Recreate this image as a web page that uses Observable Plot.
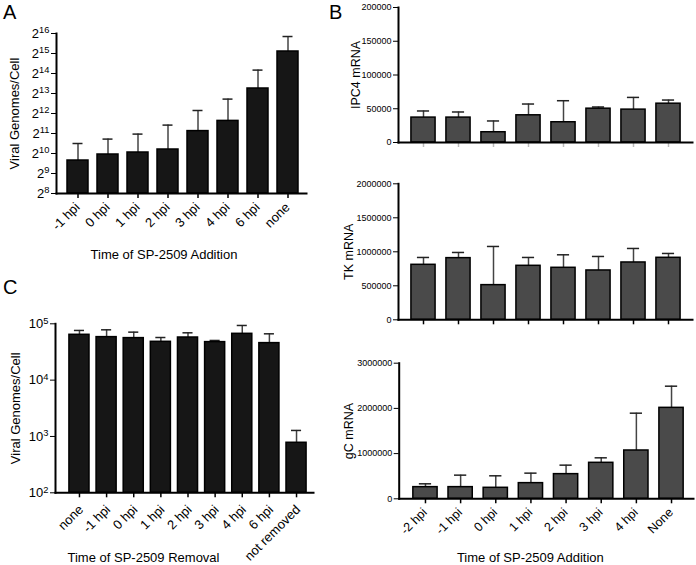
<!DOCTYPE html>
<html><head><meta charset="utf-8">
<script src="https://cdn.jsdelivr.net/npm/d3@7"></script>
<script src="https://cdn.jsdelivr.net/npm/@observablehq/plot@0.6"></script>
<style>
body{margin:0;background:#fff;}
#fig{position:relative;width:696px;height:565px;font-family:"Liberation Sans",Arial,sans-serif;overflow:hidden;}
.panel{position:absolute;}
.letter{position:absolute;font-size:20px;line-height:1;color:#000;}
</style></head><body><div id="fig"></div>
<script>
// ---- Panel A ----
const catsA = ["-1 hpi","0 hpi","1 hpi","2 hpi","3 hpi","4 hpi","6 hpi","none"];
const meanA = [803, 989, 1060, 1176, 2226, 3169, 9741, 35120];
const errA  = [1448, 1687, 2006, 2740, 4545, 6746, 18432, 59020];
const ticksA = [256, 512, 1024, 2048, 4096, 8192, 16384, 32768, 65536];
const tickLabelsA = ["2^8","2^9","2^10","2^11","2^12","2^13","2^14","2^15","2^16"];

// ---- Panel B ----
const catsB = ["-2 hpi","-1 hpi","0 hpi","1 hpi","2 hpi","3 hpi","4 hpi","None"];
const ipc4Mean = [36900, 36900, 15200, 40300, 30000, 50100, 48700, 57500];
const ipc4Err  = [46700, 45200, 31900, 57000, 61900, 52600, 66800, 62900];
const ipc4Ticks = [0, 50000, 100000, 150000, 200000];
const tkMean = [808800, 906900, 509800, 794100, 764700, 725500, 843100, 911800];
const tkErr  = [916700, 990200, 1078400, 916700, 955900, 931400, 1049000, 975500];
const tkTicks = [0, 500000, 1000000, 1500000, 2000000];
const gcMean = [258000, 258000, 243300, 346400, 545500, 796100, 1068800, 2012300];
const gcErr  = [331700, 523300, 508600, 567600, 744500, 906600, 1894300, 2491400];
const gcTicks = [0, 1000000, 2000000, 3000000];

// ---- Panel C ----
const catsC = ["none","-1 hpi","0 hpi","1 hpi","2 hpi","3 hpi","4 hpi","6 hpi","not removed"];
const meanC = [63800, 58000, 55700, 47900, 57100, 47300, 66400, 45400, 773];
const errC  = [76200, 78200, 71100, 57100, 69200, 50600, 93400, 66400, 1279];
const ticksC = [100, 1000, 10000, 100000];
const tickLabelsC = ["10^2","10^3","10^4","10^5"];

const FONT = '"Liberation Sans", Arial, sans-serif';

function panel(o) {
  const data = o.cats.map((c, i) => ({c, v: o.mean[i], e: o.err[i]}));
  const base = o.yType === "log" ? o.yDomain[0] : 0;
  const capInset = o.capInset;
  const marks = [
    Plot.ruleX(data, {x: "c", y1: "v", y2: "e", stroke: "#444", strokeWidth: 1.5}),
    Plot.tickY(data, {x: "c", y: "e", stroke: "#222", strokeWidth: 1.5, insetLeft: capInset, insetRight: capInset}),
    Plot.barY(data, {x: "c", y1: base, y2: "v", fill: o.fill, stroke: "#000", strokeWidth: 1.5}),
    Plot.axisY({ticks: o.yTicks, tickFormat: o.yTickFormat, tickSize: 5, tickPadding: 2, fontSize: o.yFont, label: null}),
    Plot.axisX({tickSize: 5, stroke: o.xTickColor || "#000", strokeWidth: 1.5, tickFormat: () => "", label: null}),
    Plot.frame({anchor: "left", strokeWidth: 2}),
    Plot.frame({anchor: "bottom", strokeWidth: 2}),
    Plot.text([o.yLabel], {frameAnchor: "left", rotate: -90, textAnchor: "middle", dx: o.yLabelDx,
      fontSize: o.yLabelFont, lineAnchor: "middle"})
  ];
  if (o.showXLabels) {
    marks.push(Plot.text(o.cats, {x: d => d, text: d => d, frameAnchor: "bottom", rotate: -45,
      textAnchor: "end", lineAnchor: "top", dx: o.xlDx, dy: o.xlDy, fontSize: o.xFont}));
  }
  if (o.xLabel) marks.push(Plot.text([o.xLabel], {frameAnchor: "bottom", dx: o.xLabelDx, dy: o.xLabelDy, fontSize: 13, lineAnchor: "middle"}));
  return Plot.plot({
    width: o.width, height: o.height,
    marginTop: o.mt, marginBottom: o.mb, marginLeft: o.ml, marginRight: o.mr,
    style: {fontFamily: FONT, color: "#000", background: "transparent", overflow: "visible"},
    x: {domain: o.cats, range: o.xr, paddingInner: o.padding, paddingOuter: o.padding / 2, round: false, label: null, axis: null},
    y: Object.assign({type: o.yType, domain: o.yDomain, label: null, axis: null}, o.yType === "log" ? {base: o.logBase} : {}),
    marks
  });
}

function superscriptTicks(svg) {
  d3.select(svg).selectAll('g[aria-label="y-axis tick label"] text').each(function() {
    const t = d3.select(this);
    const s = t.text();
    if (s.indexOf("^") < 0) return;
    const [b, e] = s.split("^");
    t.text(b);
    t.append("tspan").attr("dy", "-0.45em").attr("font-size", "72%").text(e);
  });
}

function place(svg, left, top) {
  const d = document.createElement("div");
  d.className = "panel";
  d.style.left = left + "px"; d.style.top = top + "px";
  d.appendChild(svg);
  document.getElementById("fig").appendChild(d);
}

const fmtInt = d3.format("d");

// Panel A
const svgA = panel({
  cats: catsA, mean: meanA, err: errA, width: 320, height: 290, mt: 33, mb: 97, ml: 56, mr: 14,
  xr: [62.5, 302.5], padding: 0.3, capInset: 5.5, yType: "log", logBase: 2, yDomain: [256, 65536],
  yTicks: ticksA, yTickFormat: (d) => tickLabelsA[ticksA.indexOf(d)], yFont: 13,
  yLabel: "Viral Genomes/Cell", yLabelDx: -41.5, yLabelFont: 13, fill: "#161616",
  xFont: 13, showXLabels: true, xlDx: -4, xlDy: 8,
  xLabel: "Time of SP-2509 Addition", xLabelDx: -17.5, xLabelDy: 61
});
superscriptTicks(svgA);
place(svgA, 0, 0);

// Panel C
const svgC = panel({
  cats: catsC, mean: meanC, err: errC, width: 320, height: 275, mt: 33.3, mb: 72.7, ml: 55, mr: 7,
  xr: [65.4, 309.6], padding: 0.26, capInset: 5, yType: "log", logBase: 10, yDomain: [100, 100000],
  yTicks: ticksC, yTickFormat: (d) => tickLabelsC[ticksC.indexOf(d)], yFont: 13,
  yLabel: "Viral Genomes/Cell", yLabelDx: -40, yLabelFont: 13, fill: "#161616",
  xFont: 13, showXLabels: true, xlDx: -2, xlDy: 11,
  xLabel: "Time of SP-2509 Removal", xLabelDx: -41, xLabelDy: 65
});
superscriptTicks(svgC);
place(svgC, 0, 290);

// Panel B1 IPC4
const svgB1 = panel({
  cats: catsB, mean: ipc4Mean, err: ipc4Err, width: 356, height: 155, mt: 7, mb: 13, ml: 58, mr: 4,
  xr: [65.5, 345.5], padding: 0.31, capInset: 6, yType: "linear", yDomain: [0, 200000],
  yTicks: ipc4Ticks, yTickFormat: fmtInt, yFont: 9, yLabel: "IPC4 mRNA", yLabelDx: -43, yLabelFont: 12.5,
  fill: "#4a4a4a", showXLabels: false, xTickColor: "#bbb"
});
place(svgB1, 340, 0);

// Panel B2 TK
const svgB2 = panel({
  cats: catsB, mean: tkMean, err: tkErr, width: 356, height: 170, mt: 23.3, mb: 10.7, ml: 58, mr: 4,
  xr: [65.5, 345.5], padding: 0.31, capInset: 6, yType: "linear", yDomain: [0, 2000000],
  yTicks: tkTicks, yTickFormat: fmtInt, yFont: 9, yLabel: "TK mRNA", yLabelDx: -50, yLabelFont: 12.5,
  fill: "#4a4a4a", showXLabels: false
});
place(svgB2, 340, 160);

// Panel B3 gC
const svgB3 = panel({
  cats: catsB, mean: gcMean, err: gcErr, width: 356, height: 235, mt: 32.7, mb: 66.7, ml: 58.7, mr: 3,
  xr: [67.4, 348.6], padding: 0.31, capInset: 6, yType: "linear", yDomain: [0, 3000000],
  yTicks: gcTicks, yTickFormat: fmtInt, yFont: 9, yLabel: "gC mRNA", yLabelDx: -50, yLabelFont: 12.5,
  fill: "#4a4a4a", xFont: 12.5, showXLabels: true, xlDx: -4, xlDy: 8,
  xLabel: "Time of SP-2509 Addition", xLabelDx: -16, xLabelDy: 59
});
place(svgB3, 340, 330);

// Panel letters
[["A", 3, 2], ["B", 329, 2], ["C", 3, 277]].forEach(([t, x, y]) => {
  const d = document.createElement("div");
  d.className = "letter"; d.textContent = t;
  d.style.left = x + "px"; d.style.top = y + "px";
  document.getElementById("fig").appendChild(d);
});
</script></body></html>
